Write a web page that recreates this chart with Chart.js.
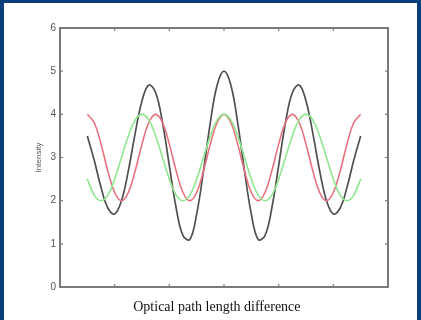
<!DOCTYPE html>
<html lang="en">
<head>
    <meta charset="UTF-8">
    <title>Intensity vs optical path length difference</title>
    <script src="https://cdn.jsdelivr.net/npm/chart.js"></script>
    <style>
        html, body { margin: 0; padding: 0; }
        body { background: #0b3f7c; width: 421px; height: 320px; overflow: hidden; }
        .panel { position: absolute; left: 4px; top: 3px; width: 413px; height: 317px; background: #fff; }
        canvas { display: block; }
    </style>
</head>
<body>
    <div class="panel">
        <canvas id="fringeChart" width="413" height="317"></canvas>
    </div>

    <script>
        // x positions (path difference, arbitrary units)
        const xValues = [0.5, 0.625, 0.75, 0.875, 1, 1.125, 1.25, 1.375, 1.5, 1.625, 1.75, 1.875, 2, 2.125, 2.25, 2.375, 2.5, 2.625, 2.75, 2.875,
            3, 3.125, 3.25, 3.375, 3.5, 3.625, 3.75, 3.875, 4, 4.125, 4.25, 4.375, 4.5, 4.625, 4.75, 4.875, 5, 5.125, 5.25, 5.375, 5.5];

        // red curve
        const redValues = [4, 3.81, 3.31, 2.69, 2.19, 2, 2.19, 2.69, 3.31, 3.81, 4, 3.81, 3.31, 2.69, 2.19, 2, 2.19, 2.69, 3.31, 3.81,
            4, 3.81, 3.31, 2.69, 2.19, 2, 2.19, 2.69, 3.31, 3.81, 4, 3.81, 3.31, 2.69, 2.19, 2, 2.19, 2.69, 3.31, 3.81, 4];

        // green curve
        const greenValues = [2.5, 2.13, 2, 2.13, 2.5, 3, 3.5, 3.87, 4, 3.87, 3.5, 3, 2.5, 2.13, 2, 2.13, 2.5, 3, 3.5, 3.87,
            4, 3.87, 3.5, 3, 2.5, 2.13, 2, 2.13, 2.5, 3, 3.5, 3.87, 4, 3.87, 3.5, 3, 2.5, 2.13, 2, 2.13, 2.5];

        // black curve (both together)
        const blackValues = [3.5, 2.94, 2.31, 1.83, 1.69, 2, 2.69, 3.56, 4.31, 4.68, 4.5, 3.81, 2.81, 1.83, 1.19, 1.1, 1.69, 2.69, 3.81, 4.68,
            5, 4.68, 3.81, 2.69, 1.69, 1.1, 1.19, 1.83, 2.81, 3.81, 4.5, 4.68, 4.31, 3.56, 2.69, 2, 1.69, 1.83, 2.31, 2.94, 3.5];

        const yTicks = [0, 1, 2, 3, 4, 5, 6];
        const xTicks = [0, 1, 2, 3, 4, 5, 6];
        const xTitle = 'Optical path length difference';

        function toPoints(values) {
            return values.map((v, i) => ({ x: xValues[i], y: v }));
        }

        // box round the plot with inward tick marks on all four sides, plus the x title
        const boxPlugin = {
            id: 'box',
            afterDraw(chart) {
                const { ctx, chartArea: a, scales } = chart;
                ctx.save();
                ctx.strokeStyle = '#7a7a7a';
                ctx.lineWidth = 2;
                ctx.strokeRect(a.left, a.top, a.right - a.left, a.bottom - a.top);
                ctx.lineWidth = 1.2;
                ctx.beginPath();
                xTicks.slice(1, -1).forEach(t => {
                    const px = scales.x.getPixelForValue(t);
                    ctx.moveTo(px, a.bottom); ctx.lineTo(px, a.bottom - 3);
                    ctx.moveTo(px, a.top); ctx.lineTo(px, a.top + 3);
                });
                yTicks.slice(1, -1).forEach(t => {
                    const py = scales.y.getPixelForValue(t);
                    ctx.moveTo(a.left, py); ctx.lineTo(a.left + 3, py);
                    ctx.moveTo(a.right, py); ctx.lineTo(a.right - 3, py);
                });
                ctx.stroke();

                ctx.fillStyle = '#111';
                ctx.font = "14px 'Liberation Serif', 'DejaVu Serif', serif";
                ctx.textAlign = 'center';
                ctx.textBaseline = 'middle';
                ctx.fillText(xTitle, scales.x.getPixelForValue(2.87), a.bottom + 20);
                ctx.restore();
            }
        };

        new Chart(document.getElementById('fringeChart'), {
            type: 'line',
            data: {
                datasets: [
                    { label: 'Green', data: toPoints(greenValues), borderColor: '#8ee68e', borderWidth: 1.6, pointRadius: 0, tension: 0.4, fill: false },
                    { label: 'Red', data: toPoints(redValues), borderColor: '#e8707c', borderWidth: 1.6, pointRadius: 0, tension: 0.4, fill: false },
                    { label: 'Black', data: toPoints(blackValues), borderColor: '#505050', borderWidth: 1.7, pointRadius: 0, tension: 0.4, fill: false }
                ]
            },
            options: {
                responsive: false,
                animation: false,
                layout: { padding: { left: 0, right: 29, top: 25, bottom: 0 } },
                plugins: { legend: { display: false }, tooltip: { enabled: false } },
                scales: {
                    x: {
                        type: 'linear',
                        min: 0,
                        max: 6,
                        grid: { display: false },
                        border: { display: false },
                        ticks: { display: false, stepSize: 1 },
                        afterFit(scale) { scale.height = 33; }
                    },
                    y: {
                        min: 0,
                        max: 6,
                        grid: { display: false, drawTicks: false },
                        border: { display: false },
                        ticks: {
                            stepSize: 1,
                            padding: 4,
                            color: '#555',
                            font: { family: "'Liberation Sans', Arial, sans-serif", size: 10 },
                            callback: v => yTicks.includes(v) ? String(v) : ''
                        },
                        title: {
                            display: true,
                            text: 'Intensity',
                            color: '#555',
                            font: { family: "'Liberation Sans', Arial, sans-serif", size: 8 },
                            padding: { top: 30, bottom: 0 }
                        },
                        afterFit(scale) { scale.width = 56; }
                    }
                }
            },
            plugins: [boxPlugin]
        });
    </script>
</body>
</html>
